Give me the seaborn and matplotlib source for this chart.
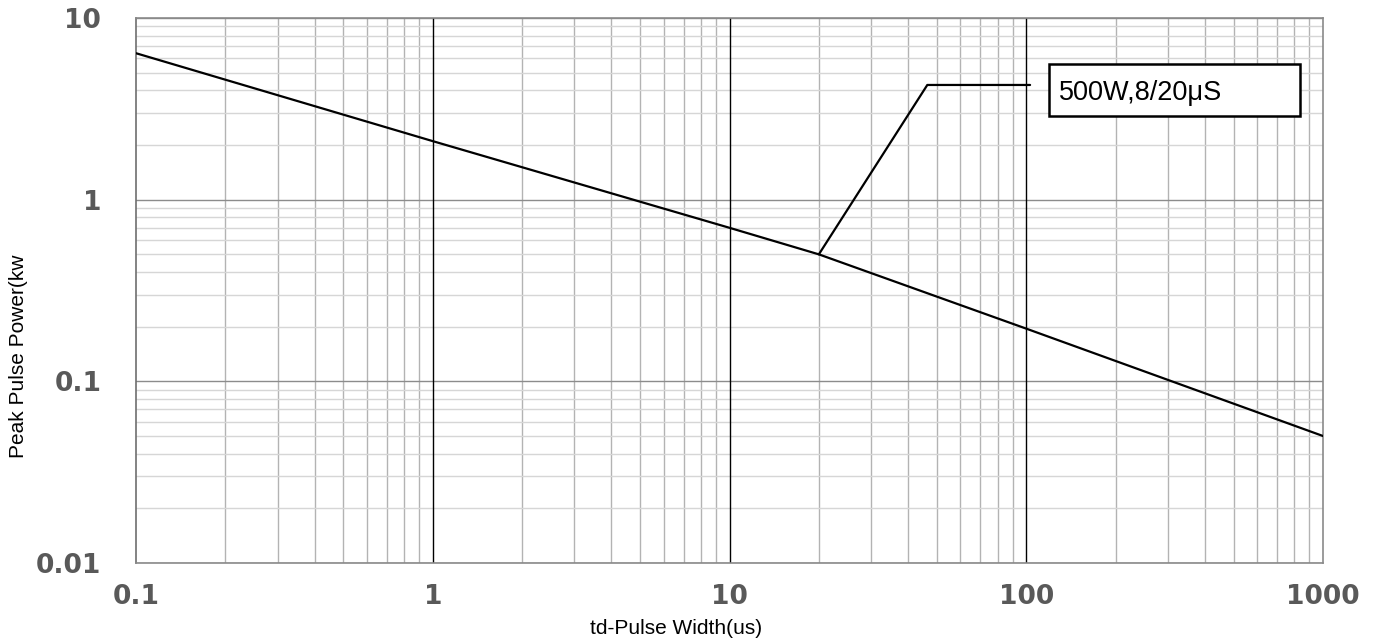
import matplotlib
matplotlib.use("Agg")
import matplotlib.pyplot as plt
from matplotlib.patches import Rectangle
from matplotlib.ticker import FixedLocator, FixedFormatter, NullFormatter, LogLocator
import seaborn as sns
import pandas as pd

# ---- data ----
pulse_width_us = [0.1, 1, 10, 20, 100, 1000]
peak_power_kw = [6.4, 2.1, 0.7, 0.5, 0.195, 0.05]

x_ticks = [0.1, 1, 10, 100, 1000]
x_tick_labels = ["0.1", "1", "10", "100", "1000"]
y_ticks = [0.01, 0.1, 1, 10]
y_tick_labels = ["0.01", "0.1", "1", "10"]

label_text = "500W,8/20μS"
leader_x = [20, 46.4, 103]
leader_y = [0.5, 4.28, 4.28]
box_x = [119, 838]
box_y = [2.89, 5.58]
label_pos = [128.8, 3.54]

x_label = "td-Pulse Width(us)"
y_label = "Peak Pulse Power(kw"

# ---- plot ----
sns.set_style("white")
plt.rcParams["font.family"] = ["Liberation Sans", "DejaVu Sans"]

fig = plt.figure(figsize=(13.78, 6.41), dpi=100)
ax = fig.add_axes([0.0987, 0.1217, 0.8614, 0.8502])

df = pd.DataFrame({"w": pulse_width_us, "p": peak_power_kw})
sns.lineplot(data=df, x="w", y="p", ax=ax, color="black", linewidth=1.6, zorder=5)

ax.set_xscale("log")
ax.set_yscale("log")
ax.set_xlim(0.1, 1000)
ax.set_ylim(0.01, 10)

ax.xaxis.set_major_locator(FixedLocator(x_ticks))
ax.xaxis.set_major_formatter(FixedFormatter(x_tick_labels))
ax.yaxis.set_major_locator(FixedLocator(y_ticks))
ax.yaxis.set_major_formatter(FixedFormatter(y_tick_labels))
ax.xaxis.set_minor_locator(LogLocator(base=10, subs=range(2, 10), numticks=20))
ax.yaxis.set_minor_locator(LogLocator(base=10, subs=range(2, 10), numticks=20))
ax.xaxis.set_minor_formatter(NullFormatter())
ax.yaxis.set_minor_formatter(NullFormatter())

ax.tick_params(which="both", length=0)
ax.tick_params(axis="x", which="major", pad=15, labelsize=19, labelcolor="#595959")
ax.tick_params(axis="y", which="major", pad=25, labelsize=19, labelcolor="#595959")
for lbl in ax.get_xticklabels() + ax.get_yticklabels():
    lbl.set_fontfamily("DejaVu Sans")
    lbl.set_fontweight("bold")

ax.set_axisbelow(True)
ax.grid(which="minor", axis="x", color="#b3b3b3", linewidth=1.0)
ax.grid(which="major", axis="y", color="#8c8c8c", linewidth=1.0)
ax.grid(which="minor", axis="y", color="#d6d6d6", linewidth=1.0)
# major vertical grid lines drawn above the light horizontal grid
for xv in x_ticks[1:-1]:
    ax.axvline(xv, color="black", linewidth=1.0, zorder=1.5)

for s in ax.spines.values():
    s.set_color("#8a8a8a")
    s.set_linewidth(1.2)
    s.set_visible(True)
ax.spines["left"].set_color("#6e6e6e")

ax.set_xlabel(x_label, fontsize=15, color="black")
ax.set_ylabel(y_label, fontsize=15, color="black")
ax.xaxis.set_label_coords(0.455, -0.102)
ax.yaxis.set_label_coords(-0.091, 0.38)

# annotation leader + box
ax.plot(leader_x, leader_y, color="black", linewidth=1.6, zorder=6)
rect = Rectangle((box_x[0], box_y[0]), box_x[1] - box_x[0], box_y[1] - box_y[0],
                 facecolor="white", edgecolor="black", linewidth=1.8, zorder=7)
ax.add_patch(rect)
ax.text(label_pos[0], label_pos[1], label_text, fontsize=19.5, color="black",
        ha="left", va="baseline", zorder=8)

fig.savefig("out.png", dpi=100)
